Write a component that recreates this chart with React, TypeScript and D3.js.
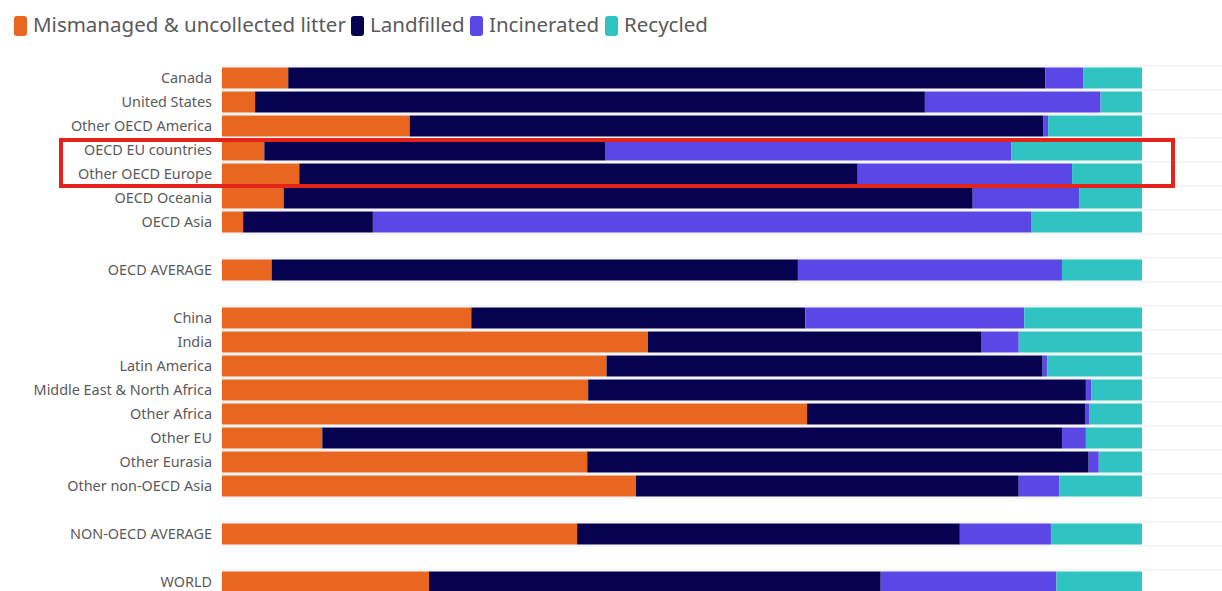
import React from "react";
import * as d3 from "d3";

const categories = [
  "Canada", "United States", "Other OECD America", "OECD EU countries", "Other OECD Europe",
  "OECD Oceania", "OECD Asia", "_gap1", "OECD AVERAGE", "_gap2",
  "China", "India", "Latin America", "Middle East & North Africa", "Other Africa",
  "Other EU", "Other Eurasia", "Other non-OECD Asia", "_gap3", "NON-OECD AVERAGE", "_gap4", "WORLD",
];

const seriesNames = ["Mismanaged & uncollected litter", "Landfilled", "Incinerated", "Recycled"];
const seriesColors = ["#E8661F", "#07024F", "#5B47E6", "#2FC4C1"];

const mismanaged = [7.2, 3.6, 20.4, 4.6, 8.4, 6.7, 2.3, 0, 5.4, 0, 27.1, 46.3, 41.8, 39.8, 63.6, 10.9, 39.7, 45.0, 0, 38.6, 0, 22.5];
const landfilled = [82.3, 72.8, 68.9, 37.1, 60.7, 74.9, 14.1, 0, 57.2, 0, 36.3, 36.2, 47.4, 54.1, 30.2, 80.4, 54.5, 41.6, 0, 41.6, 0, 49.1];
const incinerated = [4.1, 19.1, 0.5, 44.1, 23.3, 11.6, 71.6, 0, 28.7, 0, 23.8, 4.1, 0.5, 0.6, 0.5, 2.6, 1.1, 4.4, 0, 9.9, 0, 19.1];
const recycled = [6.4, 4.5, 10.2, 14.2, 7.6, 6.8, 12.0, 0, 8.7, 0, 12.8, 13.4, 10.3, 5.5, 5.7, 6.1, 4.7, 9.0, 0, 9.9, 0, 9.3];

const W = 1222;
const H = 591;
const FONT = "'Noto Sans', 'Open Sans', sans-serif";

export default function App() {
  const rows = categories.map((c, i) => ({
    cat: c,
    s0: mismanaged[i],
    s1: landfilled[i],
    s2: incinerated[i],
    s3: recycled[i],
  }));
  const keys = ["s0", "s1", "s2", "s3"];
  const stack = d3.stack<any>().keys(keys);
  const stacked = stack(rows);

  const x = d3.scaleLinear().domain([0, 100]).range([222, 1142]);
  const y = d3
    .scaleBand<string>()
    .domain(categories)
    .range([66, 594])
    .paddingInner(0.125)
    .paddingOuter(0.0625);
  const step = y.step();
  const top = 66;

  const legendPos = [
    { sx: 14, tx: 33 },
    { sx: 351, tx: 370 },
    { sx: 470, tx: 489 },
    { sx: 605, tx: 624 },
  ];

  return (
    <svg
      width={W}
      height={H}
      style={{ position: "absolute", left: 0, top: 0, background: "#fff" }}
      fontFamily={FONT}
    >
      <rect x={0} y={0} width={W} height={H} fill="#fff" />
      {/* legend */}
      <g>
        {seriesNames.map((n, i) => (
          <g key={n}>
            <rect x={legendPos[i].sx} y={16} width={13} height={20} rx={3} fill={seriesColors[i]} />
            <text x={legendPos[i].tx} y={32} fontSize={20.5} fill="#5a5a5a">
              {n}
            </text>
          </g>
        ))}
      </g>
      {/* gridlines */}
      <g>
        {d3.range(categories.length + 1).map((k) => (
          <line
            key={k}
            x1={222}
            x2={W}
            y1={top + k * step}
            y2={top + k * step}
            stroke="#ececec"
            strokeWidth={1}
          />
        ))}
      </g>
      {/* bars */}
      <g>
        {stacked.map((layer, li) => (
          <g key={layer.key} fill={seriesColors[li]}>
            {layer.map((d, i) => {
              const w = x(d[1]) - x(d[0]);
              if (w <= 0) return null;
              return (
                <rect
                  key={i}
                  x={x(d[0])}
                  y={y(categories[i])}
                  width={w}
                  height={y.bandwidth()}
                />
              );
            })}
          </g>
        ))}
      </g>
      {/* labels */}
      <g>
        {categories.map((c) =>
          c.startsWith("_") ? null : (
            <text
              key={c}
              x={212}
              y={(y(c) as number) + y.bandwidth() / 2}
              dy="0.35em"
              textAnchor="end"
              fontSize={14.4}
              fill="#5a5a5a"
            >
              {c}
            </text>
          )
        )}
      </g>
      {/* highlight annotation */}
      <rect x={61} y={140} width={1112} height={46} fill="none" stroke="#E4231B" strokeWidth={4} />
    </svg>
  );
}
